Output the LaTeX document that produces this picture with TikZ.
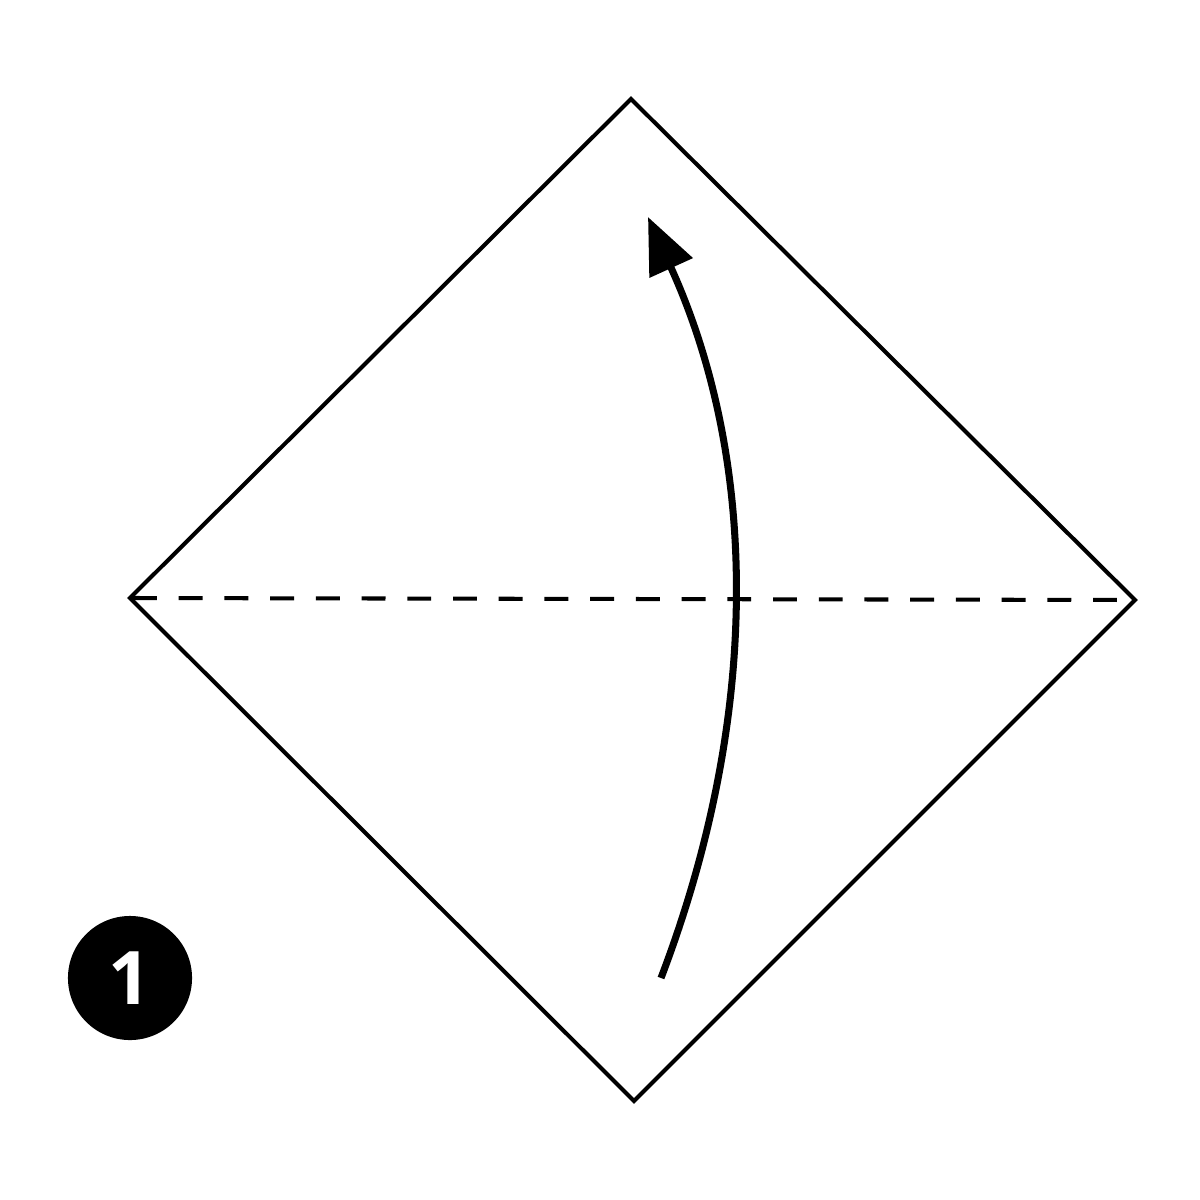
\documentclass[tikz,border=0pt]{standalone}
\usepackage{fontspec}
\setmainfont{Open Sans}
\usepackage{xcolor}
\usepackage{tikz}
\usetikzlibrary{arrows.meta}

\begin{document}
\begin{tikzpicture}[x=0.01cm, y=-0.01cm, line width=1.15pt,
    fold/.style={dash pattern=on 6.8pt off 6.2pt},
    move/.style={line width=2pt, -{Triangle[length=0.56cm, width=0.46cm]}}]
    \useasboundingbox (0,0) rectangle (1200,1200);
    \coordinate (top) at (631,99);
    \coordinate (right) at (1135,600);
    \coordinate (bottom) at (634,1101);
    \coordinate (left) at (130,598);
    \coordinate (start) at (661,978);
    \coordinate (tip) at (648,217);
    \draw (top) -- (right) -- (bottom) -- (left) -- cycle;
    \draw[fold] ([xshift=0.03cm]left) -- ([xshift=-0.03cm]right);
    \draw[move] (start) .. controls (762,713) and (758,459) .. (tip);
    \node[circle, fill=black, minimum size=1.24cm, inner sep=0pt, text=white,
        font=\fontsize{21}{21}\selectfont\bfseries] (step1) at (130,978) {1};
    \end{tikzpicture}
\end{document}
